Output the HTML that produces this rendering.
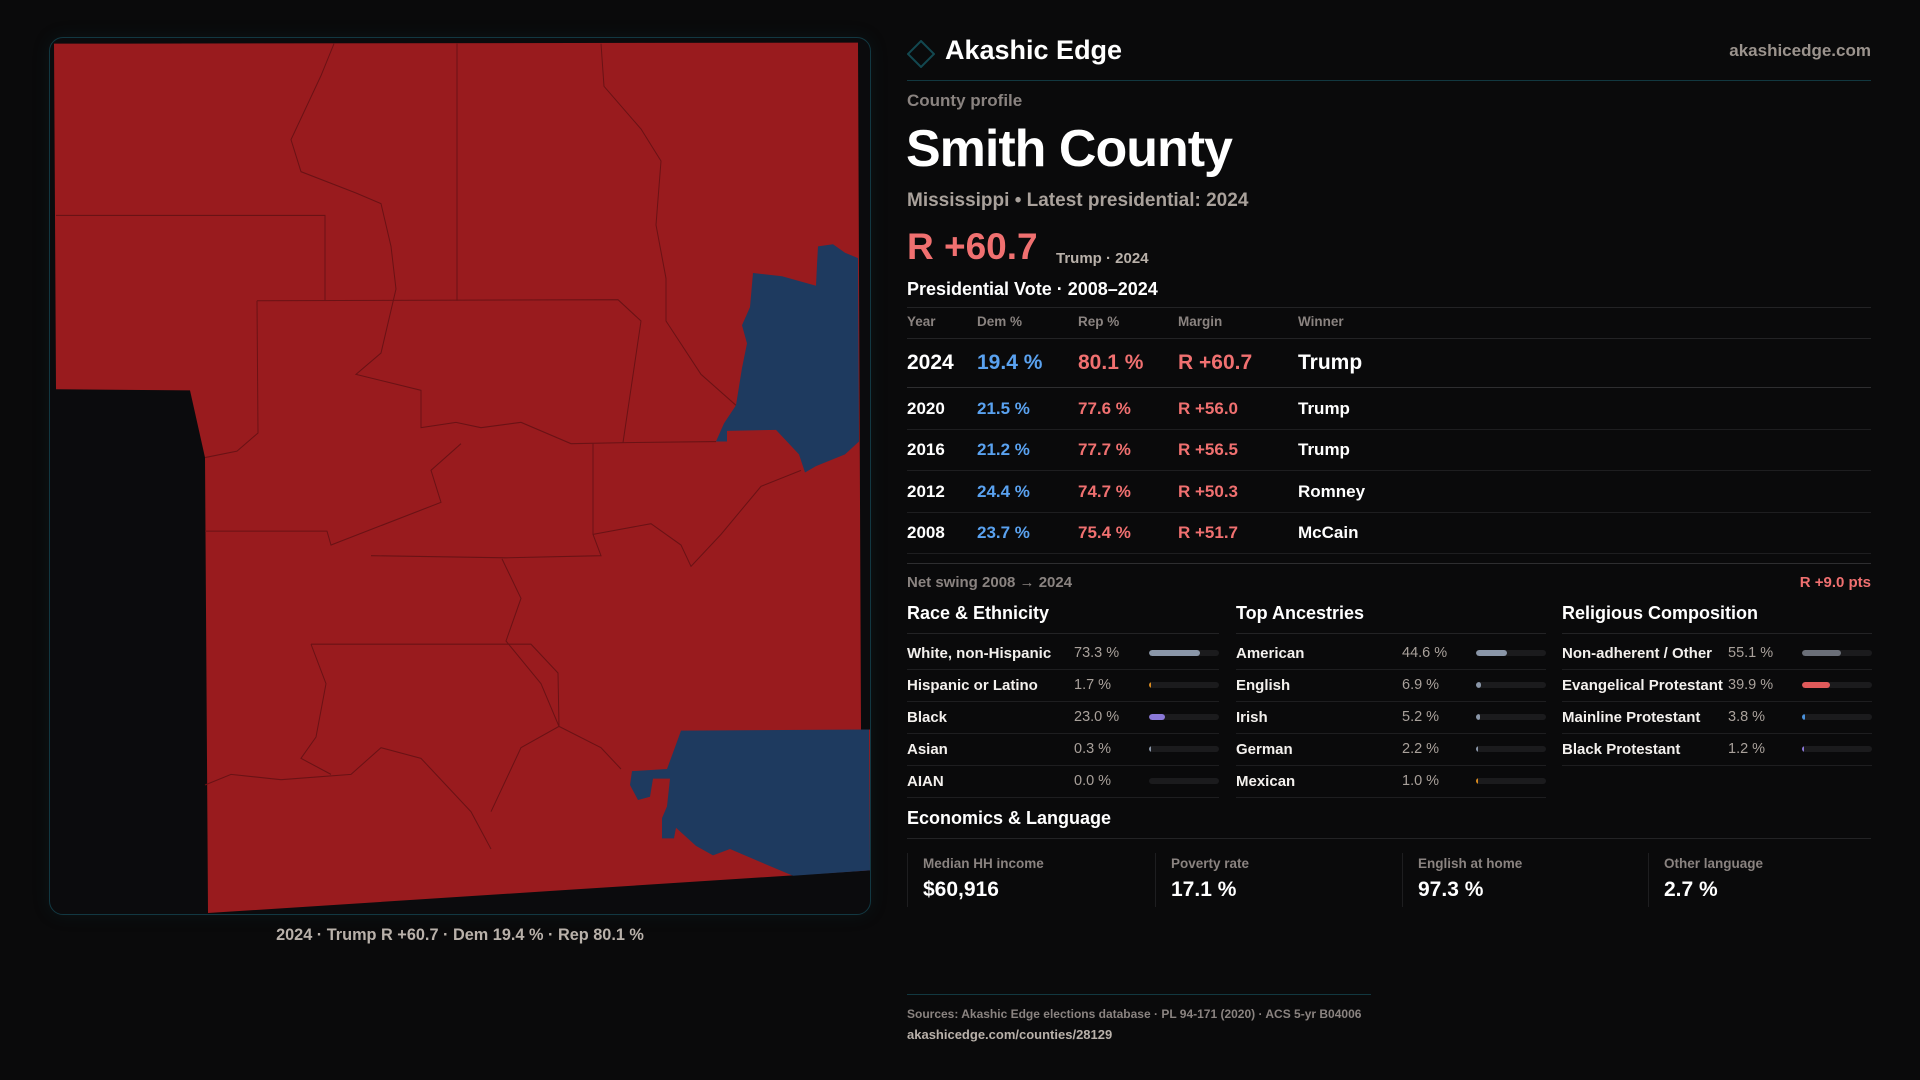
<!DOCTYPE html>
<html><head><meta charset="utf-8"><style>
*{margin:0;padding:0;box-sizing:border-box}
body{width:1920px;height:1080px;background:#0a0a0b;font-family:"Liberation Sans",sans-serif;color:#f4f1ee;position:relative;overflow:hidden}
.a{position:absolute;white-space:nowrap}
.rule{position:absolute;height:1px;background:#232325}
.lbl{font-size:15px;font-weight:bold;color:#f4f1ee}
.val{font-size:14.5px;color:#a9a19b}
.track{position:absolute;height:6px;border-radius:3px;background:#1b1b1d;overflow:hidden}
.fill{position:absolute;left:0;top:0;height:6px;border-radius:3px}
</style></head><body>
<div class="a" style="left:49px;top:37px;width:822px;height:878px;border:1px solid #123842;border-radius:14px;background:#0b0b0d;box-shadow:0 0 18px rgba(20,80,90,0.15);overflow:hidden">
<svg width="822" height="878" viewBox="49 37 822 878">
<g transform="scale(1,1.0667)">
<polygon fill="#991b1e" points="53,40 857,39 860,683 869,683 869,815 207,855 204,428 189,365 55,364"/>
<g fill="none" stroke="#6a1215" stroke-width="1">
<path d="M55,201 L152,201 L324,201 L324,281"/>
<path d="M456,40 L456,281"/>
<path d="M256,281 L617,280 L640,300 L622,414"/>
<path d="M256,281 L257,405 L236,422 L204,428"/>
<path d="M333,40 L320,70 L290,130 L300,160 L355,180 L380,190 L390,230 L395,270 L380,330 L355,350 L420,365 L420,400 L455,395"/>
<path d="M455,395 L480,400 L520,395 L570,415 L625,414 L715,413"/>
<path d="M600,40 L603,80 L640,120 L660,150 L655,210 L665,260 L665,300 L700,350 L735,379"/>
<path d="M592,415 L592,500 L600,520 L505,522 L370,520"/>
<path d="M204,497 L326,497 L330,510 L440,470 L430,440 L460,415"/>
<path d="M592,500 L650,490 L680,510 L690,530 L720,500 L760,455 L800,440"/>
<path d="M310,603 L530,603 L557,630 L558,680 L600,700 L620,720"/>
<path d="M204,735 L230,725 L280,730 L350,725 L380,700 L420,710 L470,760 L490,795"/>
<path d="M501,523 L520,560 L505,600 L540,640 L558,680 L520,700 L490,760"/>
<path d="M310,603 L325,640 L315,690 L300,710 L330,725"/>
</g>
<polygon fill="#1e3a5f" points="817,230 832,228 844,236 857,241 858,413 844,425 815,436 804,442 798,425 781,408 775,402 726,403 726,413 715,413 723,396 735,379 741,344 746,321 741,304 749,287 752,255 781,258 815,267 816,247"/>
<polygon fill="#1e3a5f" points="680,684 868,683 869,815 792,820 764,809 729,795 712,801 695,792 675,775 673,785 661,785 661,766 666,755 669,729 652,729 649,746 637,749 629,735 631,722 666,720 675,697"/>
</g>
</svg>
</div>
<div class="a" style="left:49px;width:822px;top:926px;text-align:center;font-size:16.3px;font-weight:bold;color:#b9b1aa">2024 · Trump R +60.7 · Dem 19.4 % · Rep 80.1 %</div>

<svg class="a" style="left:907px;top:40px" width="28" height="28"><polygon points="14,1 27,14 14,27 1,14" fill="none" stroke="#134850" stroke-width="2"/></svg>
<div class="a" style="left:945px;top:35px;font-size:27px;font-weight:bold;color:#fff">Akashic Edge</div>
<div class="a" style="right:49px;top:41px;font-size:17px;font-weight:bold;color:#9b938d">akashicedge.com</div>
<div class="rule" style="left:907px;width:964px;top:80px;background:#123840"></div>

<div class="a" style="left:907px;top:91px;font-size:17px;font-weight:bold;color:#8a8380">County profile</div>
<div class="a" style="left:906px;top:119px;font-size:52px;font-weight:bold;color:#fff;letter-spacing:-1px">Smith County</div>
<div class="a" style="left:907px;top:190px;font-size:19px;font-weight:bold;color:#a9a19b">Mississippi • Latest presidential: 2024</div>
<div class="a" style="left:907px;top:226px;font-size:37px;font-weight:bold;color:#f07070">R +60.7</div>
<div class="a" style="left:1056px;top:250px;font-size:15px;font-weight:bold;color:#b9b1aa">Trump · 2024</div>
<div class="a" style="left:907px;top:279px;font-size:18px;font-weight:bold;color:#fff">Presidential Vote · 2008–2024</div>
<div class="rule" style="left:907px;width:964px;top:307px"></div>
<div id="results"></div>

<div class="rule" style="left:907px;width:964px;top:563px;background:#2e2e30"></div>
<div class="a" style="left:907px;top:574px;font-size:15px;font-weight:bold;color:#8a8380">Net swing 2008 → 2024</div>
<div class="a" style="right:49px;top:574px;font-size:15px;font-weight:bold;color:#f07070">R +9.0 pts</div>
<div id="demo"></div>

<div class="a" style="left:907px;top:808px;font-size:18px;font-weight:bold;color:#fff">Economics &amp; Language</div>
<div class="rule" style="left:907px;width:964px;top:838px"></div>
<div id="stats"></div>

<div class="rule" style="left:907px;width:464px;top:994px;background:#123840"></div>
<div class="a" style="left:907px;top:1007px;font-size:12px;font-weight:bold;color:#8a8380">Sources: Akashic Edge elections database · PL 94-171 (2020) · ACS 5-yr B04006</div>
<div class="a" style="left:907px;top:1027px;font-size:13px;font-weight:bold;color:#b9b1aa">akashicedge.com/counties/28129</div>

<script>
const years=["2024","2020","2016","2012","2008"];
const demPct=[19.4,21.5,21.2,24.4,23.7];
const repPct=[80.1,77.6,77.7,74.7,75.4];
const margins=[60.7,56.0,56.5,50.3,51.7];
const winners=["Trump","Trump","Trump","Romney","McCain"];

const raceLabels=["White, non-Hispanic","Hispanic or Latino","Black","Asian","AIAN"];
const raceValues=[73.3,1.7,23.0,0.3,0.0];
const raceColors=["#8a96a8","#d98a1f","#8a78d8","#8a96a8","#8a96a8"];
const ancLabels=["American","English","Irish","German","Mexican"];
const ancValues=[44.6,6.9,5.2,2.2,1.0];
const ancColors=["#8a96a8","#8a96a8","#8a96a8","#8a96a8","#d98a1f"];
const relLabels=["Non-adherent / Other","Evangelical Protestant","Mainline Protestant","Black Protestant"];
const relValues=[55.1,39.9,3.8,1.2];
const relColors=["#6b6f78","#e05a5a","#4a90d9","#8a78d8"];

const statLabels=["Median HH income","Poverty rate","English at home","Other language"];
const statValues=["$60,916","17.1 %","97.3 %","2.7 %"];

function mk(parent,cls,style,text){const e=document.createElement('div');e.className=cls;e.setAttribute('style',style);if(text!==undefined)e.textContent=text;parent.appendChild(e);return e;}

const T=document.getElementById('results');
const cols=[907,977,1078,1178,1298];
const heads=["Year","Dem %","Rep %","Margin","Winner"];
heads.forEach((h,i)=>{const e=mk(T,'a',`left:${cols[i]}px;top:314px;font-size:13.5px;font-weight:bold;color:#8a8380`,h);

});
mk(T,'rule','left:907px;width:964px;top:338px');
const rowTop=[338,387,429,470,512];
const rowH=[49,42,41,42,41];
years.forEach((y,i)=>{
  const big=i===0, fs=big?21:17;
  const cy=rowTop[i]+rowH[i]/2+1;
  const top=cy-fs*0.6;
  const vals=[y,demPct[i].toFixed(1)+" %",repPct[i].toFixed(1)+" %","R +"+margins[i].toFixed(1),winners[i]];
  const colors=["#fff","#5aa2f0","#f07070","#f07070","#fff"];
  vals.forEach((v,j)=>{const e=mk(T,'a',`left:${cols[j]}px;top:${top}px;font-size:${fs}px;font-weight:bold;color:${colors[j]}`,v);
  
  });
  const r=mk(T,'rule',`left:907px;width:964px;top:${rowTop[i]+rowH[i]}px;background:${big?'#2e2e30':'#1e1e20'}`);
  
  
});

const D=document.getElementById('demo');
const groups=[
 {title:"Race & Ethnicity",x:907,lab:raceLabels,val:raceValues,col:raceColors,vx:1074,bx:1149},
 {title:"Top Ancestries",x:1236,lab:ancLabels,val:ancValues,col:ancColors,vx:1402,bx:1476},
 {title:"Religious Composition",x:1562,lab:relLabels,val:relValues,col:relColors,vx:1728,bx:1802}
];
groups.forEach(g=>{
  const h=mk(D,'a',`left:${g.x}px;top:603px;font-size:18px;font-weight:bold;color:#fff`,g.title);
  
  
  const w=g.bx+70-g.x;
  mk(D,'rule',`left:${g.x}px;width:${w}px;top:633px`);
  g.lab.forEach((l,i)=>{
    const cy=654+i*32;
    const le=mk(D,'a lbl',`left:${g.x}px;top:${cy-9}px`,l);
    
    
    const ve=mk(D,'a val',`left:${g.vx}px;top:${cy-9}px`,g.val[i].toFixed(1)+" %");
    
    
    const tr=mk(D,'track',`left:${g.bx}px;top:${cy-4}px;width:70px`);
    
    
    if(g.val[i]>0){const fw=Math.max(2,70*g.val[i]/100);
      const f=mk(tr,'fill',`width:${fw}px;background:${g.col[i]}`);
      
      }
    mk(D,'rule',`left:${g.x}px;width:${w}px;top:${cy+15}px;background:#1e1e20`);
  });
});

const S=document.getElementById('stats');
const sx=[907,1155,1402,1648];
statLabels.forEach((l,i)=>{
  const c=mk(S,'a',`left:${sx[i]}px;top:853px;width:240px;height:54px;border-left:1px solid #1e1e20`);
  
  
  mk(c,'a',`left:15px;top:3px;font-size:13.5px;font-weight:bold;color:#8a8380`,l);
  mk(c,'a',`left:15px;top:25px;font-size:21px;font-weight:bold;color:#fff`,statValues[i]);
});
</script>
</body></html>
